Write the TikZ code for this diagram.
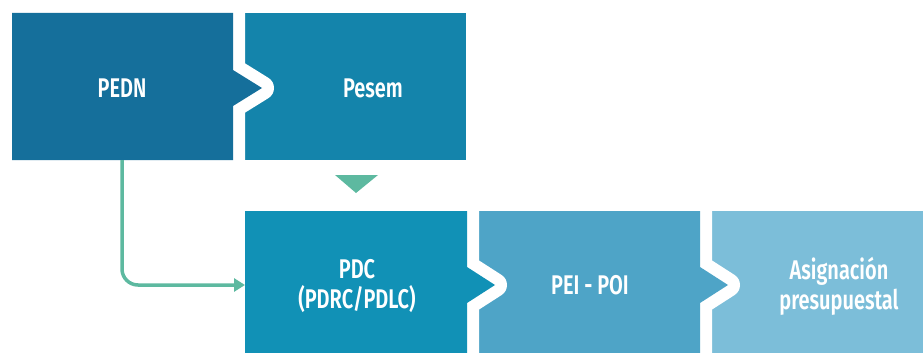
\documentclass[tikz,border=0pt]{standalone}
\usepackage{fontspec}
\setmainfont{Fira Sans}
\newfontfamily\condfont[FakeStretch=0.74,BoldFont={Fira Sans SemiBold}]{Fira Sans}
\usetikzlibrary{arrows.meta}
\definecolor{cPEDN}{HTML}{156F9B}
\definecolor{cPesem}{HTML}{1484AB}
\definecolor{cPDC}{HTML}{1191B6}
\definecolor{cPEI}{HTML}{4EA4C7}
\definecolor{cAsig}{HTML}{7CBED9}
\definecolor{cGreen}{HTML}{5DB9A0}
\tikzset{
  gapline/.style={draw=white,line width=24pt,line join=round},
  lbl/.style={text=white,font=\condfont\bfseries\fontsize{27}{29}\selectfont,align=center,inner sep=0pt},
}
\begin{document}
\begin{tikzpicture}[x=1pt,y=-1pt]
\useasboundingbox (0,0) rectangle (923,353);
% top row
\fill[cPesem] (233,13) rectangle (466,160);
\path[gapline] (12,13) -- (233,13) -- (233,70) -- (262,88) -- (233,106) -- (233,160) -- (12,160) -- cycle;
\fill[cPEDN] (12,13) -- (233,13) -- (233,70) -- (262,88) -- (233,106) -- (233,160) -- (12,160) -- cycle;
% bottom row
\fill[cAsig] (700,211) rectangle (923,353);
\path[gapline] (467,211) -- (700,211) -- (700,267) -- (728,285) -- (700,303) -- (700,353) -- (467,353) -- cycle;
\fill[cPEI] (467,211) -- (700,211) -- (700,267) -- (728,285) -- (700,303) -- (700,353) -- (467,353) -- cycle;
\path[gapline] (245,211) -- (467,211) -- (467,267) -- (495,285) -- (467,303) -- (467,353) -- (245,353) -- cycle;
\fill[cPDC] (245,211) -- (467,211) -- (467,267) -- (495,285) -- (467,303) -- (467,353) -- (245,353) -- cycle;
% green triangle
\fill[cGreen] (335,175) -- (378,175) -- (356,193) -- cycle;
% labels
\node[lbl] (pedn) at (122,88) {PEDN};
\node[lbl] (pesem) at (373,88) {Pesem};
\node[lbl] (pdc) at (357,286) {PDC\\[1pt](PDRC/PDLC)};
\node[lbl] (pei) at (590,285) {PEI - POI};
\node[lbl] (asig) at (839,286) {Asignación\\[1pt]presupuestal};
% connector
\coordinate (pednbot) at (122,160);
\coordinate (pdcleft) at (245,285);
\draw[cGreen,line width=3.5pt,rounded corners=16pt,-{Triangle[length=11pt,width=13pt]}] (pednbot) |- (pdcleft);
\end{tikzpicture}
\end{document}
